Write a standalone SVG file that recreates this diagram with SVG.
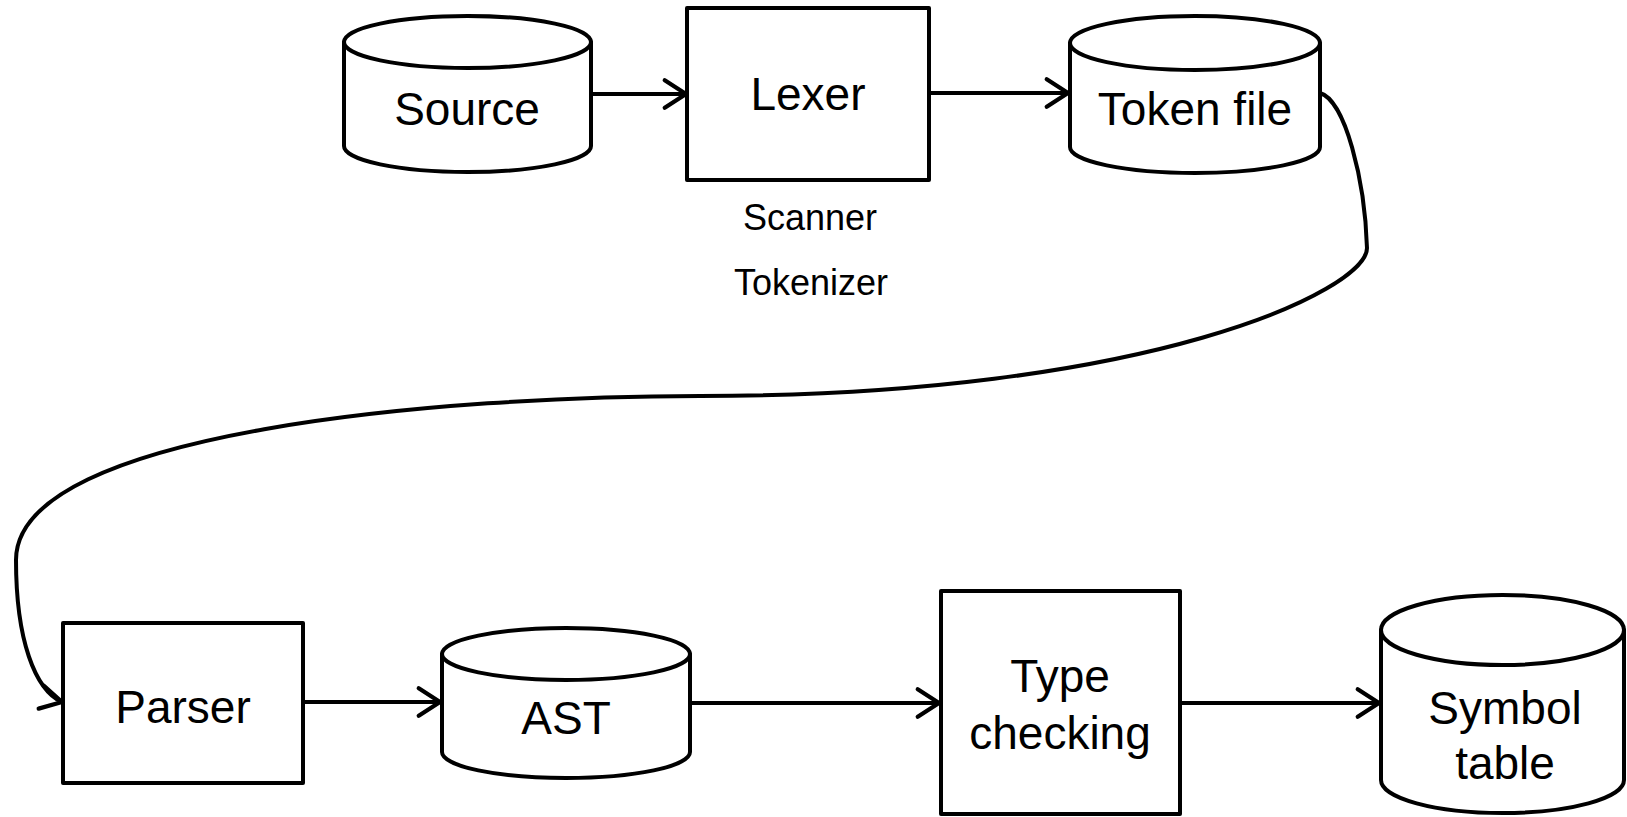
<svg xmlns="http://www.w3.org/2000/svg" width="1627" height="817" viewBox="0 0 1627 817">
<style>
.shape{fill:#fff;stroke:#000;stroke-width:4;stroke-linejoin:round}
.lbl{font-family:"Liberation Sans",Arial,sans-serif;font-size:46px;fill:#000;text-anchor:middle}
.sm{font-family:"Liberation Sans",Arial,sans-serif;font-size:36px;fill:#000;text-anchor:middle}
.conn{fill:none;stroke:#000;stroke-width:4}
</style>
<defs>
<marker id="arr" markerUnits="userSpaceOnUse" markerWidth="30" markerHeight="34" viewBox="-24 -16 28 32" refX="0" refY="0" orient="auto">
<path d="M-20,-13 L0,0 L-20,13" fill="none" stroke="#000" stroke-width="4" stroke-linecap="round" stroke-linejoin="round"/>
</marker>
<marker id="arr2" markerUnits="userSpaceOnUse" markerWidth="30" markerHeight="34" viewBox="-24 -16 28 32" refX="0" refY="0" orient="13">
<path d="M-20,-11 L0,0 L-20,11" fill="none" stroke="#000" stroke-width="4" stroke-linecap="round" stroke-linejoin="round"/>
</marker>
</defs>
<g id="connectors">
<line class="conn" x1="591" y1="94" x2="686" y2="94" marker-end="url(#arr)"/>
<line class="conn" x1="929" y1="93" x2="1068" y2="93" marker-end="url(#arr)"/>
<path class="conn" d="M1320,93 C1345,100 1365,180 1367,248 C1367,290 1150,396 700,396 C450,396 16,430 16,560 C16,640 35,690 62,702" marker-end="url(#arr2)"/>
<line class="conn" x1="303" y1="702" x2="440" y2="702" marker-end="url(#arr)"/>
<line class="conn" x1="690" y1="703" x2="939" y2="703" marker-end="url(#arr)"/>
<line class="conn" x1="1180" y1="703" x2="1379" y2="703" marker-end="url(#arr)"/>
</g>
<g id="source">
<path class="shape" d="M344,42 L344,146 A123.5,26 0 0 0 591,146 L591,42 Z"/>
<ellipse class="shape" cx="467.5" cy="42" rx="123.5" ry="26"/>
<text class="lbl" x="467" y="125">Source</text>
</g>
<g id="lexer">
<rect class="shape" x="687" y="8" width="242" height="172"/>
<text class="lbl" x="808" y="110">Lexer</text>
<text class="sm" x="810" y="230">Scanner</text>
<text class="sm" x="811" y="295">Tokenizer</text>
</g>
<g id="tokenfile">
<path class="shape" d="M1070,43 L1070,147 A125,26 0 0 0 1320,147 L1320,43 Z"/>
<ellipse class="shape" cx="1195" cy="43" rx="125" ry="27"/>
<text class="lbl" x="1195" y="125">Token file</text>
</g>
<g id="parser">
<rect class="shape" x="63" y="623" width="240" height="160"/>
<text class="lbl" x="183" y="723">Parser</text>
</g>
<g id="ast">
<path class="shape" d="M442,654 L442,752 A124,26 0 0 0 690,752 L690,654 Z"/>
<ellipse class="shape" cx="566" cy="654" rx="124" ry="26"/>
<text class="lbl" x="566" y="734">AST</text>
</g>
<g id="typechecking">
<rect class="shape" x="941" y="591" width="239" height="223"/>
<text class="lbl" x="1060" y="692">Type</text>
<text class="lbl" x="1060" y="749">checking</text>
</g>
<g id="symboltable">
<path class="shape" d="M1381,630 L1381,780 A121.5,33 0 0 0 1624,780 L1624,630 Z"/>
<ellipse class="shape" cx="1502.5" cy="630" rx="121.5" ry="35"/>
<text class="lbl" x="1505" y="724">Symbol</text>
<text class="lbl" x="1505" y="779">table</text>
</g>
</svg>
